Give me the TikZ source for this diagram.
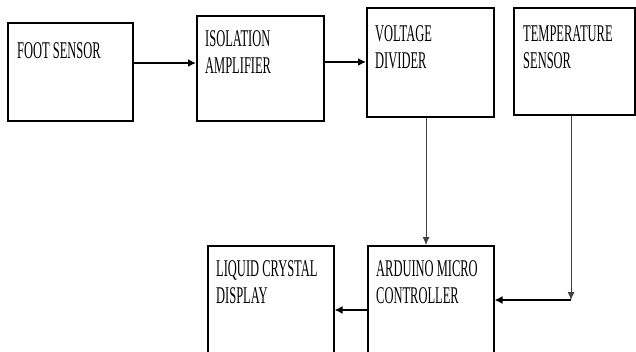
\documentclass[tikz,border=0pt]{standalone}
\usepackage{fontspec}
\setmainfont[FakeStretch=0.52]{Liberation Serif}
\usetikzlibrary{arrows.meta}
\begin{document}
\begin{tikzpicture}[x=1pt,y=-1pt,
  box/.style={draw=black,line width=1.5pt,rectangle,inner sep=0pt,anchor=north west},
  txt/.style={anchor=north west,inner sep=0pt,align=left,font=\fontsize{24}{27.5}\selectfont,text=black},
  harr/.style={line width=1.6pt,-{Latex[length=8pt,width=8pt]}},
  varr/.style={line width=0.9pt,draw=black!75,-{Latex[length=8pt,width=7pt]}}]
\useasboundingbox (0,0) rectangle (636,351);
\clip (0,0) rectangle (636,351);
\node[box,minimum width=125pt,minimum height=98pt] (foot) at (7,22) {};
\node[box,minimum width=127pt,minimum height=105pt] (iso) at (196,15) {};
\node[box,minimum width=127pt,minimum height=109pt] (vd) at (366,7) {};
\node[box,minimum width=121pt,minimum height=107pt] (temp) at (513,7) {};
\node[box,minimum width=126pt,minimum height=120pt] (lcd) at (207,245) {};
\node[box,minimum width=126pt,minimum height=120pt] (ard) at (367,245) {};
\node[txt] (tfoot) at (17,42) {FOOT SENSOR};
\node[txt] (tiso) at (205,30) {ISOLATION\\AMPLIFIER};
\node[txt] (tvd) at (375,25) {VOLTAGE\\DIVIDER};
\node[txt] (ttemp) at (523,25) {TEMPERATURE\\SENSOR};
\node[txt] (tlcd) at (216,260) {LIQUID CRYSTAL\\DISPLAY};
\node[txt] (tard) at (376,260) {ARDUINO MICRO\\CONTROLLER};
\coordinate (tc) at (571,300);
\draw[harr] (foot.east |- 0,63) -- (iso.west |- 0,63);
\draw[harr] (iso.east |- 0,62) -- (vd.west |- 0,62);
\draw[varr] (vd.south -| 426,0) -- (ard.north -| 426,0);
\draw[varr] (temp.south -| tc) -- (tc);
\draw[harr] (tc) -- (ard.east |- tc);
\draw[harr] (ard.west |- 0,310) -- (lcd.east |- 0,310);
\end{tikzpicture}
\end{document}
